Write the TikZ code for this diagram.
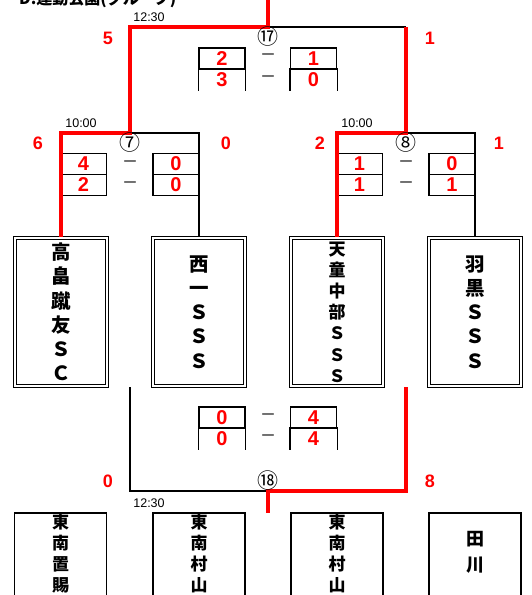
\documentclass[tikz,border=0pt]{standalone}
\usepackage{fontspec}
\setmainfont{Liberation Sans}
\newfontfamily\cjk{Noto Sans CJK JP}
\usetikzlibrary{positioning}

\begin{document}
\begin{tikzpicture}[x=1pt, y=-1pt,
  win/.style={draw=red, line width=3.2pt},
  lose/.style={draw=black, line width=1.3pt},
  cell/.style={draw=black, line width=1.3pt, minimum width=46pt, minimum height=21pt, inner sep=0pt, text=red, font=\bfseries\fontsize{20}{20}\selectfont},
  bare/.style={cell, draw=none},
  minus/.style={inner sep=0pt, font=\cjk\fontsize{16}{16}\selectfont},
  side/.style={inner sep=0pt, text=red, font=\bfseries\fontsize{18}{18}\selectfont},
  time/.style={inner sep=0pt, font=\fontsize{12.5}{12.5}\selectfont},
  circ/.style={inner sep=0pt, font=\cjk\fontsize{21}{21}\selectfont},
  teambox/.style={draw, double, double distance=2pt, line width=1.1pt, minimum width=92pt, minimum height=148pt, inner sep=0pt, align=center, font=\cjk\bfseries\fontsize{19.5}{24.2}\selectfont},
  botbox/.style={draw, line width=1.3pt, minimum width=92pt, minimum height=152pt, inner sep=0pt},
  bottext/.style={inner sep=0pt, align=center, font=\cjk\bfseries\fontsize{17}{21}\selectfont}]
\clip (0,0) rectangle (531,595);
\node[anchor=base west, inner sep=0pt, font=\cjk\bfseries\fontsize{16}{16}\selectfont] (title) at (19,4) {D:運動公園(グループ)};
\node[teambox] (T1) at (61,312) {高\\畠\\蹴\\友\\Ｓ\\Ｃ};
\node[teambox] (T2) at (199,312) {西\\一\\Ｓ\\Ｓ\\Ｓ};
\node[teambox, font=\cjk\bfseries\fontsize{17}{21.2}\selectfont] (T3) at (337,312) {天\\童\\中\\部\\Ｓ\\Ｓ\\Ｓ};
\node[teambox] (T4) at (475,312) {羽\\黒\\Ｓ\\Ｓ\\Ｓ};
\node[botbox] (T5) at (60.5,589) {};
\node[botbox] (T6) at (199,589) {};
\node[botbox] (T7) at (337,589) {};
\node[botbox] (T8) at (475,589) {};
\node[bottext, below=1pt of T5.north] (T5N) {東\\南\\置\\賜};
\node[bottext, below=1pt of T6.north] (T6N) {東\\南\\村\\山};
\node[bottext, below=1pt of T7.north] (T7N) {東\\南\\村\\山};
\node[bottext, below=19pt of T8.north, font=\cjk\bfseries\fontsize{18}{26}\selectfont] (T8N) {田\\川};
\coordinate (C17T) at (268,0);
\coordinate (C17) at (268,27);
\coordinate (C17L) at (130,27);
\coordinate (C17R) at (406,27);
\coordinate (C7) at (130,133);
\coordinate (C7L) at (61,133);
\coordinate (C7R) at (199,133);
\coordinate (C8) at (406,133);
\coordinate (C8L) at (337,133);
\coordinate (C8R) at (475,133);
\coordinate (C18LT) at (130,387);
\coordinate (C18L) at (130,491);
\coordinate (C18) at (268,491);
\coordinate (C18R) at (406,491);
\coordinate (C18RT) at (406,387);
\coordinate (C18B) at (268,513);
\draw[lose] (C17) -- (C17R);
\draw[lose] (C7) -- (C7R) -- (T2.north);
\draw[lose] (C8) -- (C8R) -- (T4.north);
\draw[lose] (C18LT) -- (C18L) -- (C18);
\node[cell] (M17L1) at (222,58.5) {2};
\node[bare] (M17L2) at (222,79.5) {3};
\node[cell] (M17R1) at (313.5,58.5) {1};
\node[bare] (M17R2) at (313.5,79.5) {0};
\draw[lose] (M17L2.north west) -- (M17L2.south west) (M17L2.north east) -- (M17L2.south east);
\draw[lose] (M17R2.north west) -- (M17R2.south west) (M17R2.north east) -- (M17R2.south east);
\node[minus] (M17D1) at (268,57.5) {－};
\node[minus] (M17D2) at (268,79) {－};
\node[cell] (M7L1) at (83.5,164) {4};
\node[cell] (M7L2) at (83.5,185) {2};
\node[cell] (M7R1) at (176,164) {0};
\node[cell] (M7R2) at (176,185) {0};
\node[minus] (M7D1) at (130,164) {－};
\node[minus] (M7D2) at (130,185) {－};
\node[cell] (M8L1) at (359.5,164) {1};
\node[cell] (M8L2) at (359.5,185) {1};
\node[cell] (M8R1) at (452,164) {0};
\node[cell] (M8R2) at (452,185) {1};
\node[minus] (M8D1) at (406,164) {－};
\node[minus] (M8D2) at (406,185) {－};
\node[cell] (M18L1) at (222,417.5) {0};
\node[bare] (M18L2) at (222,438.5) {0};
\node[cell] (M18R1) at (313.5,417.5) {4};
\node[bare] (M18R2) at (313.5,438.5) {4};
\draw[lose] (M18L2.north west) -- (M18L2.south west) (M18L2.north east) -- (M18L2.south east);
\draw[lose] (M18R2.north west) -- (M18R2.south west) (M18R2.north east) -- (M18R2.south east);
\node[minus] (M18D1) at (268,417) {－};
\node[minus] (M18D2) at (268,438) {－};
\draw[win] (C17T) -- (C17) -- (C17L) -- (C7) -- (C7L) -- (T1.north);
\draw[win] (C17R) -- (C8) -- (C8L) -- (T3.north);
\draw[win] (C18RT) -- (C18R) -- (C18) -- (C18B);
\node[circ] (K17) at (268,36.5) {⑰};
\node[circ] (K7) at (130,142.5) {⑦};
\node[circ] (K8) at (406,142.5) {⑧};
\node[circ] (K18) at (268,481) {⑱};
\node[time] (H17) at (149,17) {12:30};
\node[time] (H7) at (81,123) {10:00};
\node[time] (H8) at (357,123) {10:00};
\node[time] (H18) at (149,503) {12:30};
\node[side] (N17L) at (108,38) {5};
\node[side] (N17R) at (430,38) {1};
\node[side] (N7L) at (38,143) {6};
\node[side] (N7R) at (226,143) {0};
\node[side] (N8L) at (320,143) {2};
\node[side] (N8R) at (499,143) {1};
\node[side] (N18L) at (108,481) {0};
\node[side] (N18R) at (430,481) {8};
\end{tikzpicture}
\end{document}
